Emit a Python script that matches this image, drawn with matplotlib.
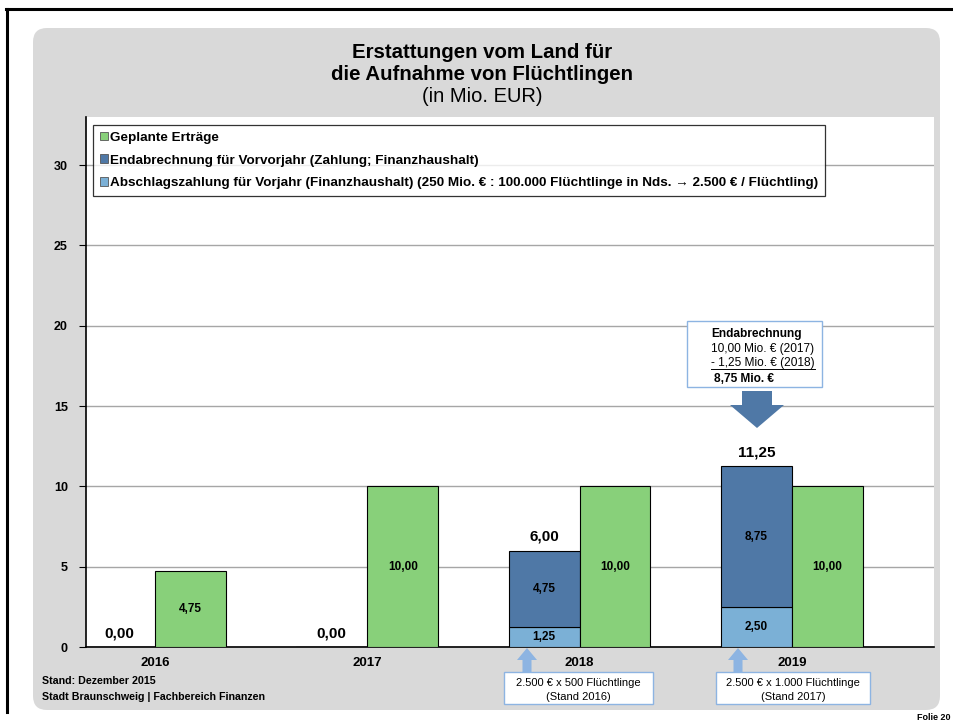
import matplotlib.pyplot as plt
import numpy as np
from matplotlib.patches import FancyBboxPatch, Rectangle, Polygon, Patch
from matplotlib.lines import Line2D

plt.rcParams['font.family'] = ['Liberation Sans', 'DejaVu Sans']

# data (Mio. EUR)
years = ['2016', '2017', '2018', '2019']
abschlag = [0.00, 0.00, 1.25, 2.50]
endabrechnung = [0.00, 0.00, 4.75, 8.75]
geplant = [4.75, 10.00, 10.00, 10.00]
yticks = [0, 5, 10, 15, 20, 25, 30]

leg_labels = ['Geplante Erträge',
              'Endabrechnung für Vorvorjahr (Zahlung; Finanzhaushalt)',
              'Abschlagszahlung für Vorjahr (Finanzhaushalt) (250 Mio. € : 100.000 Flüchtlinge in Nds. \u2192 2.500 € / Flüchtling)']
box_texts = {'2018': ['2.500 € x 500 Flüchtlinge', '(Stand 2016)'],
             '2019': ['2.500 € x 1.000 Flüchtlinge', '(Stand 2017)']}

c_green = '#88D07A'
c_dark = '#4F78A6'
c_light = '#7BB0D6'
c_frame = '#8DB4E2'

def fmt(v):
    return ('%.2f' % v).replace('.', ',')

W, H = 954, 720
fig = plt.figure(figsize=(W / 100, H / 100), dpi=100)

# background layer in pixel coordinates
bg = fig.add_axes([0, 0, 1, 1], zorder=0)
bg.set_xlim(0, W)
bg.set_ylim(H, 0)
bg.axis('off')
bg.add_patch(FancyBboxPatch((33, 28), 907, 682, boxstyle='round,pad=0,rounding_size=14',
                            facecolor='#D9D9D9', edgecolor='none'))
bg.add_line(Line2D([7, 7], [9, 712], color='black', lw=2.2))
bg.add_line(Line2D([6, W], [9, 9], color='black', lw=2.2))

# main chart
x0, x1, y0, y1 = 86, 934, 117, 647
ax = fig.add_axes([x0 / W, (H - y1) / H, (x1 - x0) / W, (y1 - y0) / H], zorder=1)
ax.set_facecolor('white')
x = np.arange(len(years))
bw = 0.334
xb = x - bw / 2
xg = x + bw / 2

ax.bar(xb, abschlag, bw, color=c_light, edgecolor='black', lw=0.8, zorder=3)
ax.bar(xb, endabrechnung, bw, bottom=abschlag, color=c_dark, edgecolor='black', lw=0.8, zorder=3)
ax.bar(xg, geplant, bw, color=c_green, edgecolor='black', lw=0.8, zorder=3)

for i in range(len(years)):
    if abschlag[i] > 0:
        ax.text(xb[i], abschlag[i] / 2, fmt(abschlag[i]), ha='center', va='center',
                fontsize=8.5, fontweight='bold', zorder=4)
    if endabrechnung[i] > 0:
        ax.text(xb[i], abschlag[i] + endabrechnung[i] / 2, fmt(endabrechnung[i]),
                ha='center', va='center', fontsize=8.5, fontweight='bold', zorder=4)
    tot = abschlag[i] + endabrechnung[i]
    ax.text(xb[i], tot + 0.85, fmt(tot), ha='center', va='center',
            fontsize=11, fontweight='bold', zorder=4)
    ax.text(xg[i], geplant[i] / 2, fmt(geplant[i]), ha='center', va='center',
            fontsize=8.5, fontweight='bold', zorder=4)

ax.set_xlim(-0.325, 3.67)
ax.set_ylim(0, 33)
ax.set_yticks(yticks)
ax.set_yticklabels([str(t) for t in yticks], fontsize=9, fontweight='bold')
ax.set_xticks(x)
ax.set_xticklabels(years, fontsize=9.5, fontweight='bold')
ax.tick_params(axis='x', length=0, pad=7)
ax.tick_params(axis='y', length=5, width=0.8, direction='out', pad=8)
ax.yaxis.grid(True, color='#A6A6A6', lw=1)
ax.set_axisbelow(True)
for s in ['top', 'right']:
    ax.spines[s].set_visible(False)
for s in ['left', 'bottom']:
    ax.spines[s].set_linewidth(1.2)

handles = [Patch(facecolor=c_green, edgecolor='#555555', lw=0.6),
           Patch(facecolor=c_dark, edgecolor='#555555', lw=0.6),
           Patch(facecolor=c_light, edgecolor='#555555', lw=0.6)]
leg = ax.legend(handles, leg_labels, loc='upper left', bbox_to_anchor=(0.008, 0.985),
                prop={'size': 9.7, 'weight': 'bold'}, frameon=True, fancybox=False,
                handlelength=0.6, handleheight=0.6, handletextpad=0.2,
                labelspacing=0.8, borderpad=0.5, borderaxespad=0)
leg.get_frame().set_edgecolor('black')
leg.get_frame().set_linewidth(0.9)

# overlay layer for annotations (pixel coordinates)
ov = fig.add_axes([0, 0, 1, 1], zorder=5)
ov.set_xlim(0, W)
ov.set_ylim(H, 0)
ov.axis('off')
ov.patch.set_alpha(0)

ov.text(482, 53, 'Erstattungen vom Land für', ha='center', va='center', fontsize=14.7, fontweight='bold')
ov.text(482, 75, 'die Aufnahme von Flüchtlingen', ha='center', va='center', fontsize=14.7, fontweight='bold')
ov.text(482, 96, '(in Mio. EUR)', ha='center', va='center', fontsize=14.5)

# Endabrechnung callout
ov.add_patch(Rectangle((687, 321), 135, 66, facecolor='white', edgecolor=c_frame, lw=1))
ov.text(711, 334, 'Endabrechnung', ha='left', va='center', fontsize=8.6, fontweight='bold')
ov.text(711, 349, '10,00 Mio. € (2017)', ha='left', va='center', fontsize=8.6)
ov.text(711, 363, '- 1,25 Mio. € (2018)', ha='left', va='center', fontsize=8.6)
ov.add_line(Line2D([711, 815], [368.5, 368.5], color='black', lw=0.7))
ov.text(714, 379, '8,75 Mio. €', ha='left', va='center', fontsize=8.6, fontweight='bold')
ov.add_patch(Polygon([(742, 391), (772, 391), (772, 405), (784, 405), (757, 428),
                      (730, 405), (742, 405)], closed=True, facecolor=c_dark, edgecolor='none'))

# bottom info boxes with small arrows
for xa, (bx, bwid) in zip([527, 738], [(504, 149), (716, 154)]):
    ov.add_patch(Polygon([(xa - 4.5, 672), (xa + 4.5, 672), (xa + 4.5, 660), (xa + 10, 660),
                          (xa, 648), (xa - 10, 660), (xa - 4.5, 660)], closed=True,
                         facecolor=c_frame, edgecolor='none'))
    ov.add_patch(Rectangle((bx, 672), bwid, 32, facecolor='white', edgecolor=c_frame, lw=1))
for (bx, bwid), yr in zip([(504, 149), (716, 154)], ['2018', '2019']):
    ov.text(bx + bwid / 2, 683.5, box_texts[yr][0], ha='center', va='center', fontsize=8)
    ov.text(bx + bwid / 2, 696.5, box_texts[yr][1], ha='center', va='center', fontsize=8)

ov.text(42, 681, 'Stand: Dezember 2015', ha='left', va='center', fontsize=7.7, fontweight='bold')
ov.text(42, 697, 'Stadt Braunschweig | Fachbereich Finanzen', ha='left', va='center',
        fontsize=7.7, fontweight='bold')
ov.text(917, 717, 'Folie 20', ha='left', va='center', fontsize=6.5, fontweight='bold')

fig.savefig('out.png', dpi=100, facecolor='white')
